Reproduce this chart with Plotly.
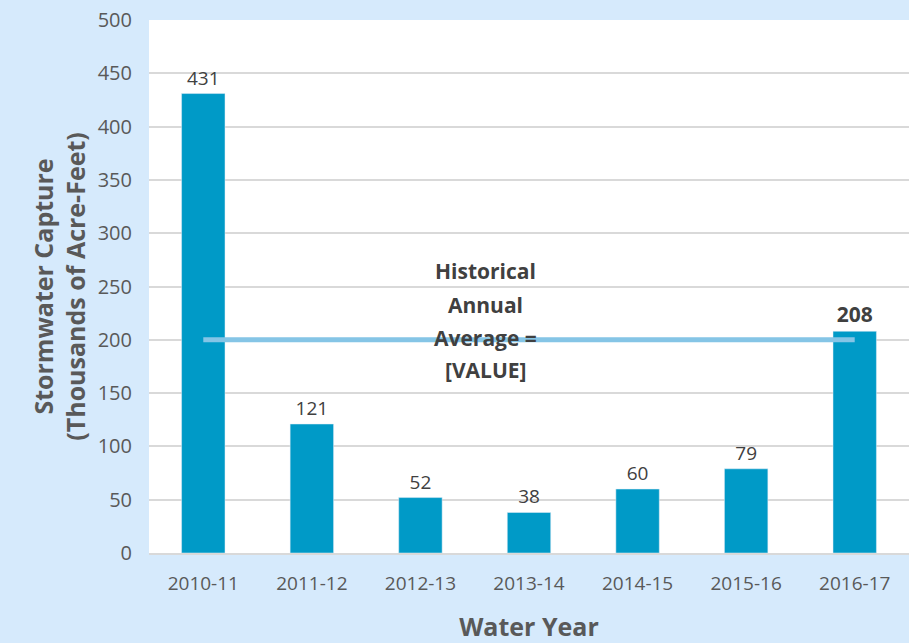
import plotly.graph_objects as go

years = ["2010-11", "2011-12", "2012-13", "2013-14", "2014-15", "2015-16", "2016-17"]
capture = [431, 121, 52, 38, 60, 79, 208]
average_value = 200
avg_label_lines = ["Historical", "Annual", "Average =", "[VALUE]"]

FONT = "'Open Sans', Lato, sans-serif"
BAR = "#009ac7"
GRAY = "#595959"
DARK = "#404040"
BG = "#d6eafc"

labels = [str(v) for v in capture]
labels[-1] = "<b>" + labels[-1] + "</b>"
sizes = [19] * len(capture)
sizes[-1] = 21

fig = go.Figure()
fig.add_trace(go.Bar(
    x=years, y=capture, marker_color=BAR, width=0.4,
    text=labels, textposition="outside", cliponaxis=False,
    textfont=dict(size=sizes, color=DARK, family=FONT),
    hoverinfo="skip",
))
fig.add_trace(go.Scatter(
    x=[years[0], years[-1]], y=[average_value, average_value],
    mode="lines", line=dict(color="#85c5e6", width=5), hoverinfo="skip",
))

line_y = [265, 233, 202, 172]
for txt, yy in zip(avg_label_lines, line_y):
    fig.add_annotation(x=2.6, y=yy, xref="x", yref="y", text="<b>" + txt + "</b>",
                       showarrow=False, font=dict(size=21, color=DARK, family=FONT))

fig.update_layout(
    width=909, height=643, autosize=False,
    margin=dict(l=149, r=0, t=20, b=90),
    paper_bgcolor=BG, plot_bgcolor="white",
    showlegend=False, bargap=0.6,
    font=dict(family=FONT, color=GRAY),
)
fig.update_xaxes(
    type="category", automargin=False,
    tickfont=dict(size=19, color=GRAY), showgrid=False, ticks="",
    ticklabelstandoff=12,
    title=dict(text="<b>Water Year</b>", font=dict(size=25, color=GRAY), standoff=26),
    showline=True, linecolor="#d9d9d9", linewidth=2,
)
fig.update_yaxes(
    range=[0, 500], dtick=50, tickfont=dict(size=20, color=GRAY), automargin=False,
    gridcolor="#d9d9d9", gridwidth=2, zeroline=False, ticks="", ticklen=0,
    ticklabelstandoff=16,
    title=dict(text="<b>Stormwater Capture<br>(Thousands of Acre-Feet)</b>",
               font=dict(size=25, color=GRAY), standoff=4),
)

fig.write_html("out.html", config={"displayModeBar": False},
               post_script="document.body.style.margin='0';document.body.style.padding='0';")
